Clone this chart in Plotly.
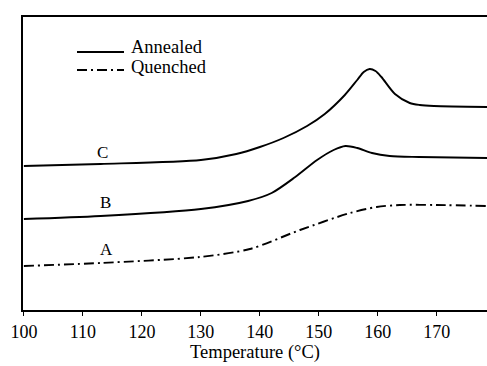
import plotly.graph_objects as go

# Curve C (annealed)
c_temp = [100, 113, 130, 136, 140, 144, 148, 151, 154.4, 156.5, 157.6, 158.6, 159.6, 160.6, 162.9, 165.4, 167.1, 169.5, 178.5]
c_val = [144, 146, 150, 156, 163, 172, 184, 196, 215, 230, 238, 241, 239, 233, 216, 207, 205, 204, 203]
# Curve B (annealed)
b_temp = [100, 113, 130, 138, 142, 146, 149.7, 152.5, 154.5, 156.5, 159, 162, 167, 178.5]
b_val = [91, 94, 101, 109, 117, 133, 150, 160, 164, 162, 157, 154, 153, 152]
# Curve A (quenched)
a_temp = [100, 113, 129.8, 138.3, 146.8, 155.3, 159.8, 163.7, 170, 178.5]
a_val = [44, 47, 53, 61, 80, 97, 103, 105, 105, 104]

labels = ["C", "B", "A"]
label_temp = [113.4, 113.9, 114.0]
label_val = [158, 108, 61]

legend_names = ["Annealed", "Quenched"]
x_ticks = [100, 110, 120, 130, 140, 150, 160, 170]

font_serif = "'Times New Roman', 'Liberation Serif', serif"
line_w = 1.9
dashdot = "10px,4px,2px,4px"

fig = go.Figure()
fig.add_trace(go.Scatter(x=c_temp, y=c_val, mode="lines", name="Annealed", showlegend=False,
                         line=dict(color="black", width=line_w, shape="spline", smoothing=0.8)))
fig.add_trace(go.Scatter(x=b_temp, y=b_val, mode="lines", name="Annealed", showlegend=False,
                         line=dict(color="black", width=line_w, shape="spline", smoothing=0.8)))
fig.add_trace(go.Scatter(x=a_temp, y=a_val, mode="lines", name="Quenched", showlegend=False,
                         line=dict(color="black", width=line_w, shape="spline", smoothing=0.8,
                                   dash=dashdot)))

for t, lx, ly in zip(labels, label_temp, label_val):
    fig.add_annotation(x=lx, y=ly, text=t, showarrow=False,
                       font=dict(family=font_serif, size=17, color="black"))

# manual legend (paper coordinates)
def px_x(p):
    return (p - 23) / 464.0

def px_y(p):
    return (310 - p) / 293.0

legend_rows = [(52, 47, None), (70, 67, dashdot)]
for name, (ly, ty, dsh) in zip(legend_names, legend_rows):
    fig.add_shape(type="line", xref="paper", yref="paper",
                  x0=px_x(77), x1=px_x(124), y0=px_y(ly), y1=px_y(ly),
                  line=dict(color="black", width=line_w, dash=dsh if dsh else "solid"))
    fig.add_annotation(xref="paper", yref="paper", x=px_x(129), y=px_y(ty), text=name,
                       showarrow=False, xanchor="left", yanchor="middle",
                       font=dict(family=font_serif, size=18.5, color="black"))

fig.update_layout(
    width=487, height=366,
    margin=dict(l=23, r=0, t=17, b=56),
    paper_bgcolor="white", plot_bgcolor="white",
    showlegend=False,
    xaxis=dict(range=[99.85, 178.5], tickvals=x_ticks, ticktext=[str(v) for v in x_ticks],
               showline=True, linecolor="black", linewidth=2, mirror=True,
               ticks="outside", ticklen=4, tickcolor="black", showgrid=False, zeroline=False,
               tickfont=dict(family=font_serif, size=18, color="black"),
               title=dict(text="Temperature (°C)", font=dict(family=font_serif, size=18.5, color="black"),
                          standoff=4)),
    yaxis=dict(range=[0, 293], showline=True, linecolor="black", linewidth=2, mirror=False,
               showticklabels=False, ticks="", showgrid=False, zeroline=False),
)

fig.write_html("out.html")
